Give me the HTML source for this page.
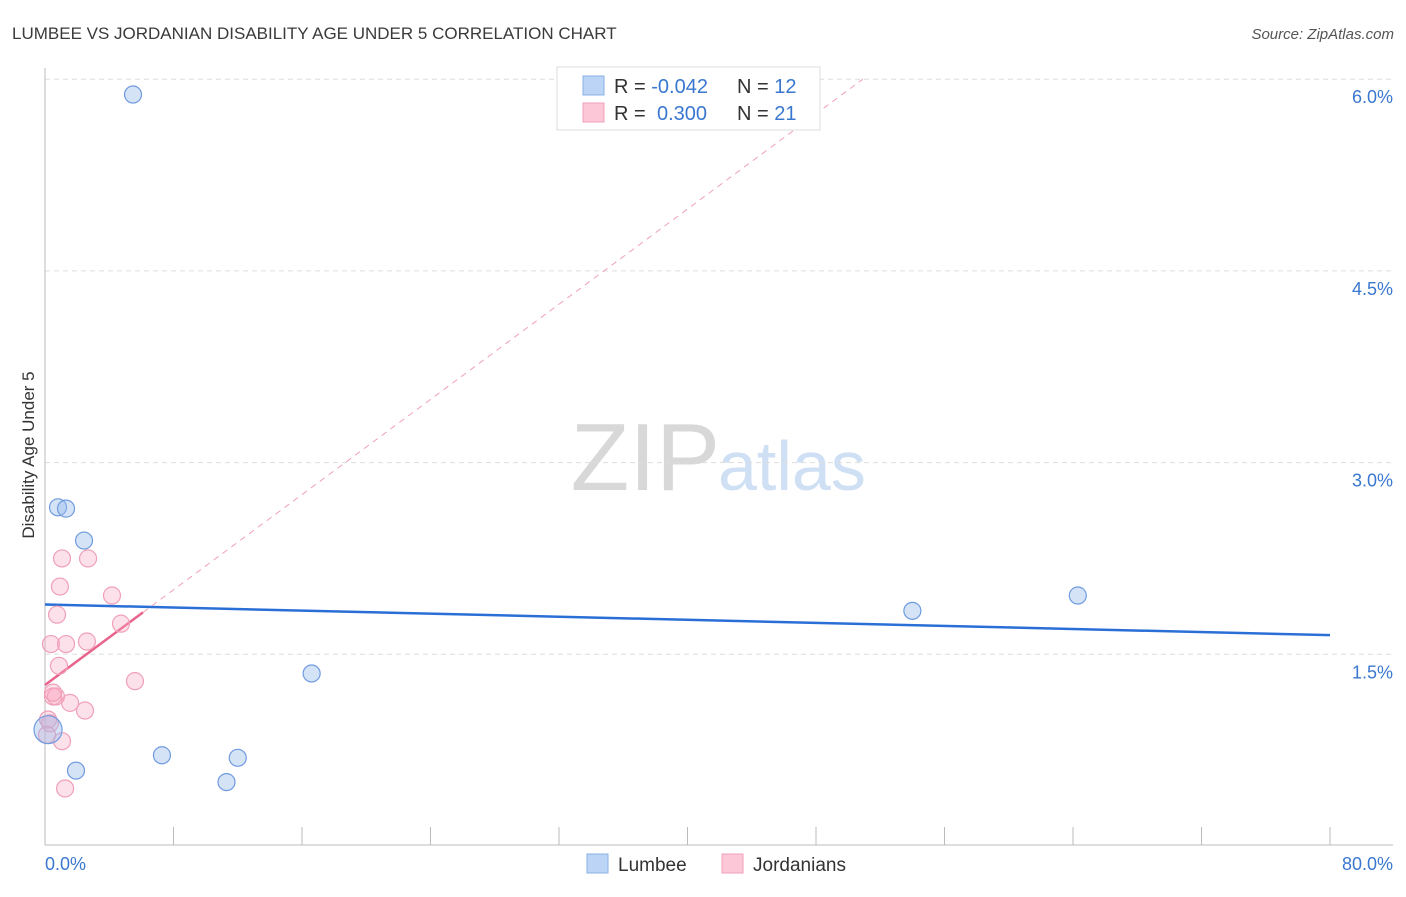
<!DOCTYPE html>
<html><head><meta charset="utf-8">
<style>
body{margin:0;background:#fff;font-family:"Liberation Sans",sans-serif;}
svg text{font-family:"Liberation Sans",sans-serif;}
</style></head>
<body>
<svg id="chart" width="1406" height="892">
<text x="12" y="39" font-size="17" fill="#3a3a3a">LUMBEE VS JORDANIAN DISABILITY AGE UNDER 5 CORRELATION CHART</text>
<text x="1394" y="39" font-size="15" fill="#555" font-style="italic" text-anchor="end">Source: ZipAtlas.com</text>
<text x="720" y="490" font-size="96" fill="#d8d8d8" text-anchor="end" font-family="Liberation Serif">ZIP</text>
<text x="718" y="490" font-size="70" fill="#cfe0f5">atlas</text>
<text transform="translate(34,455) rotate(-90)" font-size="17" fill="#333" text-anchor="middle">Disability Age Under 5</text>
<g id="grid"></g><g id="axes"></g><g id="trend"></g><g id="pts"></g>
<g>
<rect x="557" y="67" width="263" height="63" fill="#fff" stroke="#ddd"/>
<rect x="583" y="76" width="21" height="19" fill="#bcd4f5" stroke="#8ab0e6"/>
<rect x="583" y="103" width="21" height="19" fill="#fcc8d8" stroke="#f0a0b8"/>
<text x="614" y="93" font-size="20" fill="#333">R = <tspan fill="#3a78d0">-0.042</tspan><tspan x="737">N = </tspan><tspan fill="#3a78d0">12</tspan></text>
<text x="614" y="120" font-size="20" fill="#333">R = <tspan x="657" fill="#3a78d0">0.300</tspan><tspan x="737">N = </tspan><tspan fill="#3a78d0">21</tspan></text>
</g>
<g>
<rect x="587" y="854" width="21" height="19" fill="#bcd4f5" stroke="#8ab0e6"/>
<text x="618" y="871" font-size="19" fill="#333">Lumbee</text>
<rect x="722" y="854" width="21" height="19" fill="#fcc8d8" stroke="#f0a0b8"/>
<text x="753" y="871" font-size="19" fill="#333">Jordanians</text>
</g>
</svg>
<script>
const lumbeeX=[5.48,0.81,1.31,2.43,54.0,64.3,16.6,7.28,12.0,11.3,1.93,0.19];
const lumbeeY=[5.88,2.65,2.64,2.39,1.84,1.96,1.35,0.71,0.69,0.50,0.59,0.91];
const jordX=[1.06,2.68,0.93,4.17,0.75,4.73,0.37,1.31,2.61,0.87,5.60,0.50,0.68,1.56,2.49,0.19,0.31,1.06,1.25,0.50,0.12];
const jordY=[2.25,2.25,2.03,1.96,1.81,1.74,1.58,1.58,1.60,1.41,1.29,1.17,1.17,1.12,1.06,0.99,0.96,0.82,0.45,1.20,0.87];
const yTicks=[1.5,3.0,4.5,6.0];
const xTickLabels=["0.0%","80.0%"];
const lumbeeTrend=[1.89,1.65];
const jordTrend=[1.26,0.0931];
const NS="http://www.w3.org/2000/svg";
const X=v=>45+v/80*1285, Y=v=>846-v/1.5*191.7;
function mk(p,t,a){const e=document.createElementNS(NS,t);for(const k in a)e.setAttribute(k,a[k]);document.getElementById(p).appendChild(e);return e;}
yTicks.forEach(t=>{
 const l=mk('grid','line',{x1:45,x2:1393,y1:Y(t),y2:Y(t),stroke:'#ddd','stroke-dasharray':'5,4'});
 
 
 const tx=mk('grid','text',{x:1393,y:Y(t)+24,'font-size':18,fill:'#3a78d0','text-anchor':'end'});
 tx.textContent=t.toFixed(1)+'%';
 
 
});
mk('axes','line',{x1:45,x2:45,y1:68,y2:845,stroke:'#bbb'});
mk('axes','line',{x1:45,x2:1393,y1:845,y2:845,stroke:'#bbb'});
for(let i=0;i<=10;i++){mk('axes','line',{x1:X(i*8),x2:X(i*8),y1:827,y2:845,stroke:'#bbb'});}
const l0=mk('axes','text',{x:45,y:870,'font-size':18,fill:'#3a78d0'});l0.textContent=xTickLabels[0];


const l1=mk('axes','text',{x:1393,y:870,'font-size':18,fill:'#3a78d0','text-anchor':'end'});l1.textContent=xTickLabels[1];


const bt=mk('trend','line',{x1:X(0),y1:Y(lumbeeTrend[0]),x2:X(80),y2:Y(lumbeeTrend[1]),stroke:'#2a6fd6','stroke-width':2.5});


const xe=(6.0-jordTrend[0])/jordTrend[1];
const pd=mk('trend','line',{x1:X(6.1),y1:Y(jordTrend[0]+jordTrend[1]*6.1),x2:X(xe),y2:Y(6.0),stroke:'#f0a0b8','stroke-width':1,'stroke-dasharray':'6,5'});


const ps=mk('trend','line',{x1:X(0),y1:Y(jordTrend[0]),x2:X(6.1),y2:Y(jordTrend[0]+jordTrend[1]*6.1),stroke:'#e8648c','stroke-width':2.5});


jordX.forEach((x,i)=>{const c=mk('pts','circle',{cx:X(x),cy:Y(jordY[i]),r:8.5,fill:'rgba(248,170,195,0.35)',stroke:'#f0a0b8','stroke-width':1.2});
 
 });
lumbeeX.forEach((x,i)=>{const c=mk('pts','circle',{cx:X(x),cy:Y(lumbeeY[i]),r:i==11?14:8.5,fill:'rgba(150,185,235,0.4)',stroke:'#6f9be0','stroke-width':1.2});
 
 });
</script>
</body></html>
